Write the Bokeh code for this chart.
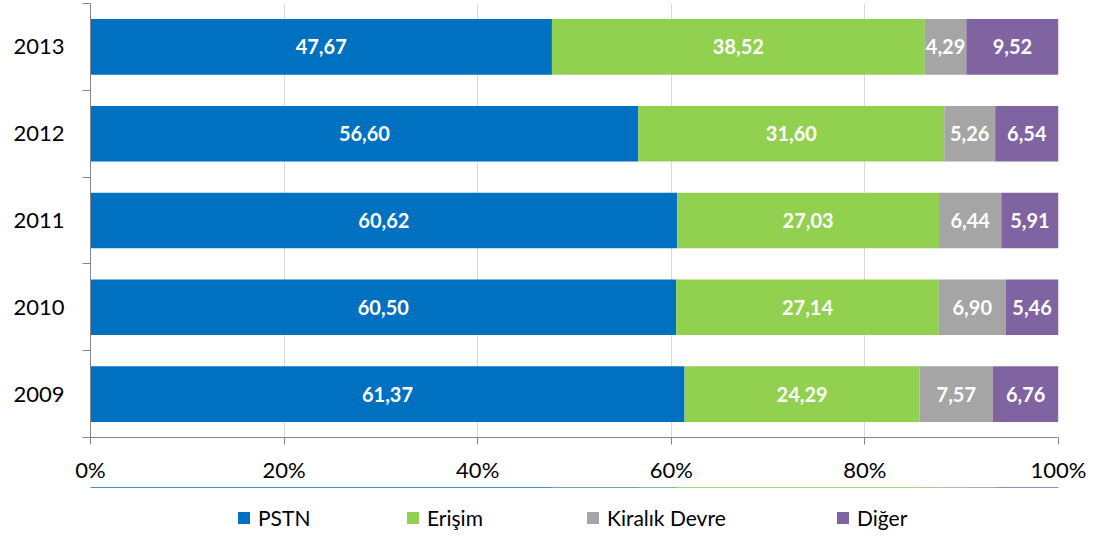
from bokeh.plotting import figure
from bokeh.layouts import column
from bokeh.models import Range1d, FixedTicker, Legend, LegendItem, ColumnDataSource, LabelSet
from bokeh.core.properties import value
from bokeh.embed import file_html
from bokeh.resources import INLINE

years = ["2009", "2010", "2011", "2012", "2013"]
pstn = [61.37, 60.50, 60.62, 56.60, 47.67]
erisim = [24.29, 27.14, 27.03, 31.60, 38.52]
kiralik = [7.57, 6.90, 6.44, 5.26, 4.29]
diger = [6.76, 5.46, 5.91, 6.54, 9.52]
series = ["PSTN", "Erişim", "Kiralık Devre", "Diğer"]
colors = ["#0070C0", "#92D050", "#A5A5A5", "#8064A2"]
x_ticks = [0, 20, 40, 60, 80, 100]

FONT = "Lato"
values = [pstn, erisim, kiralik, diger]
ypos = [i + 0.5 for i in range(len(years))]

data = {"y": ypos}
for name, vals in zip(series, values):
    data[name] = vals
src = ColumnDataSource(data)

p = figure(frame_width=968, frame_height=434, x_range=Range1d(0, 100), y_range=Range1d(0, len(years)),
           output_backend="svg", toolbar_location=None,
           min_border_left=90, min_border_right=38, min_border_top=3, min_border_bottom=50)
p.outline_line_color = None

rs = p.hbar_stack(stackers=series, y="y", height=0.64, color=colors, source=src, line_color=None)

# value labels
cum = [0.0] * len(years)
for name, vals in zip(series, values):
    centers = [c + v / 2 for c, v in zip(cum, vals)]
    cum = [c + v for c, v in zip(cum, vals)]
    lsrc = ColumnDataSource(dict(x=centers, y=ypos, t=[f"{v:.2f}".replace(".", ",") for v in vals]))
    lab = LabelSet(x="x", y="y", text="t", source=lsrc, text_align="center", text_baseline="middle",
                   text_color="white", text_font=value(FONT), text_font_style="bold", text_font_size="20px")
    p.add_layout(lab)

# x axis
p.xaxis.ticker = FixedTicker(ticks=x_ticks)
p.xaxis.major_label_overrides = {t: f"{t}%" for t in x_ticks}
p.xaxis.minor_tick_line_color = None
p.xaxis.major_tick_in = 0
p.xaxis.major_tick_out = 7
p.xaxis.axis_line_color = "#868686"
p.xaxis.major_tick_line_color = "#868686"
p.xaxis.major_label_text_font = FONT
p.xaxis.major_label_text_font_size = "22px"
p.xaxis.major_label_text_color = "black"
p.xaxis.major_label_standoff = 11

# y axis (labels at band centres, ticks at band boundaries)
p.yaxis.ticker = FixedTicker(ticks=ypos, minor_ticks=list(range(len(years) + 1)))
p.yaxis.major_label_overrides = {y: yr for y, yr in zip(ypos, years)}
p.yaxis.major_tick_line_color = None
p.yaxis.major_tick_out = 0
p.yaxis.major_tick_in = 0
p.yaxis.minor_tick_in = 0
p.yaxis.minor_tick_out = 8
p.yaxis.minor_tick_line_color = "#868686"
p.yaxis.axis_line_color = "#868686"
p.yaxis.major_label_text_font = FONT
p.yaxis.major_label_text_font_size = "22px"
p.yaxis.major_label_text_color = "black"
p.yaxis.major_label_standoff = 18

p.ygrid.grid_line_color = None
p.xgrid.grid_line_color = "#D9D9D9"

# legend strip below the chart (its own stacked bars sit outside its visible range)
lp = figure(frame_width=968, frame_height=51, x_range=Range1d(0, 100), y_range=Range1d(-20, -19),
            output_backend="svg", toolbar_location=None,
            min_border_left=90, min_border_right=38, min_border_top=0, min_border_bottom=0)
lp.outline_line_color = None
lp.axis.visible = False
lp.grid.visible = False
swatches = lp.hbar_stack(stackers=series, y="y", height=0.64, color=colors, source=src, line_color=None)

legend_x = [146, 315, 495, 745]
for s, r, lx in zip(series, swatches, legend_x):
    lg = Legend(items=[LegendItem(label=s, renderers=[r])], location=(lx, 8),
                orientation="horizontal", padding=0, margin=0, label_standoff=7,
                label_text_font=FONT, label_text_font_size="21px", label_text_color="black",
                label_height=24, glyph_width=15, glyph_height=15,
                border_line_color=None, background_fill_alpha=0)
    lp.add_layout(lg)

layout = column(p, lp, spacing=0)
open("out.html", "w").write(file_html(layout, INLINE))
